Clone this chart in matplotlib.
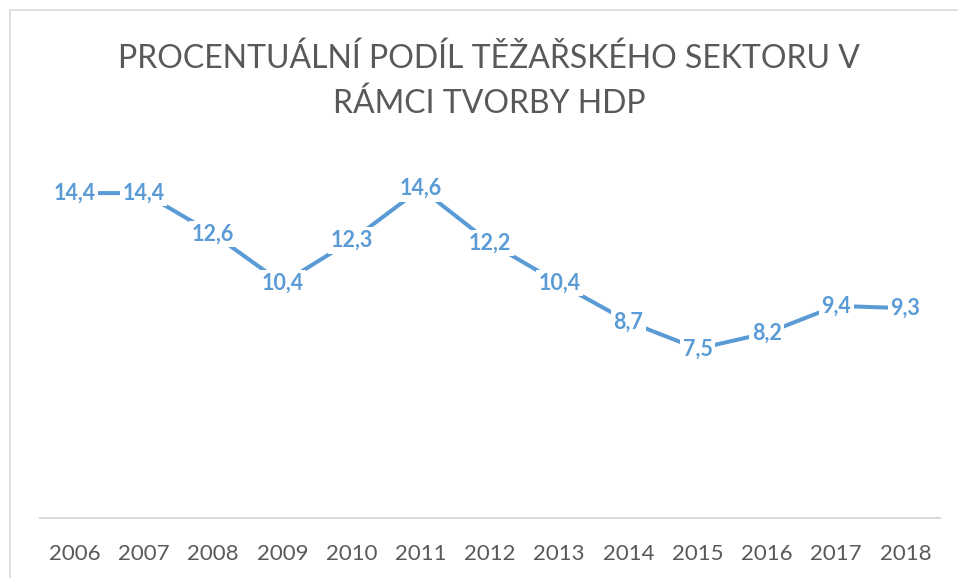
import matplotlib
matplotlib.use("Agg")
import matplotlib.pyplot as plt
from matplotlib.patches import Rectangle

years = ["2006", "2007", "2008", "2009", "2010", "2011", "2012",
         "2013", "2014", "2015", "2016", "2017", "2018"]
values = [14.4, 14.4, 12.6, 10.4, 12.3, 14.6, 12.2, 10.4, 8.7, 7.5, 8.2, 9.4, 9.3]
labels = ["14,4", "14,4", "12,6", "10,4", "12,3", "14,6", "12,2",
          "10,4", "8,7", "7,5", "8,2", "9,4", "9,3"]
title = "PROCENTUÁLNÍ PODÍL TĚŽAŘSKÉHO SEKTORU V\nRÁMCI TVORBY HDP"

plt.rcParams['font.family'] = ['Lato', 'DejaVu Sans']
W, H = 958, 578
fig = plt.figure(figsize=(W / 100, H / 100), dpi=100)
fig.patch.set_facecolor('white')

ax = fig.add_axes([40 / W, (H - 518) / H, 900 / W, (518 - 157) / H])
x = list(range(len(years)))
line_color = '#5B9BD5'
ax.plot(x, values, color=line_color, linewidth=2.9, solid_capstyle='butt', zorder=2)
for xi, v, lab in zip(x, values, labels):
    ax.text(xi, v, lab, ha='center', va='center', fontsize=15.5, fontweight='bold',
            color=line_color, zorder=3,
            bbox=dict(boxstyle='square,pad=0.12', facecolor='white', edgecolor='none'))

ax.set_xlim(-0.5, len(years) - 0.5)
ax.set_ylim(0, 16)
ax.set_xticks(x)
ax.set_xticklabels(years, fontsize=16, color='#595959')
ax.tick_params(axis='x', length=0, pad=19)
ax.set_yticks([])
for s in ['top', 'right', 'left']:
    ax.spines[s].set_visible(False)
ax.spines['bottom'].set_color('#d9d9d9')
ax.spines['bottom'].set_linewidth(1.5)

fig.text(489 / W, 1 - 81 / H, title, ha='center', va='center', fontsize=23,
         color='#595959', linespacing=1.6)

fig.patches.append(Rectangle((10 / W, -0.05), 1.2, 1 - 10 / H + 0.05,
                             transform=fig.transFigure, fill=False,
                             edgecolor='#d9d9d9', linewidth=1.2))

fig.savefig('out.png', dpi=100)
